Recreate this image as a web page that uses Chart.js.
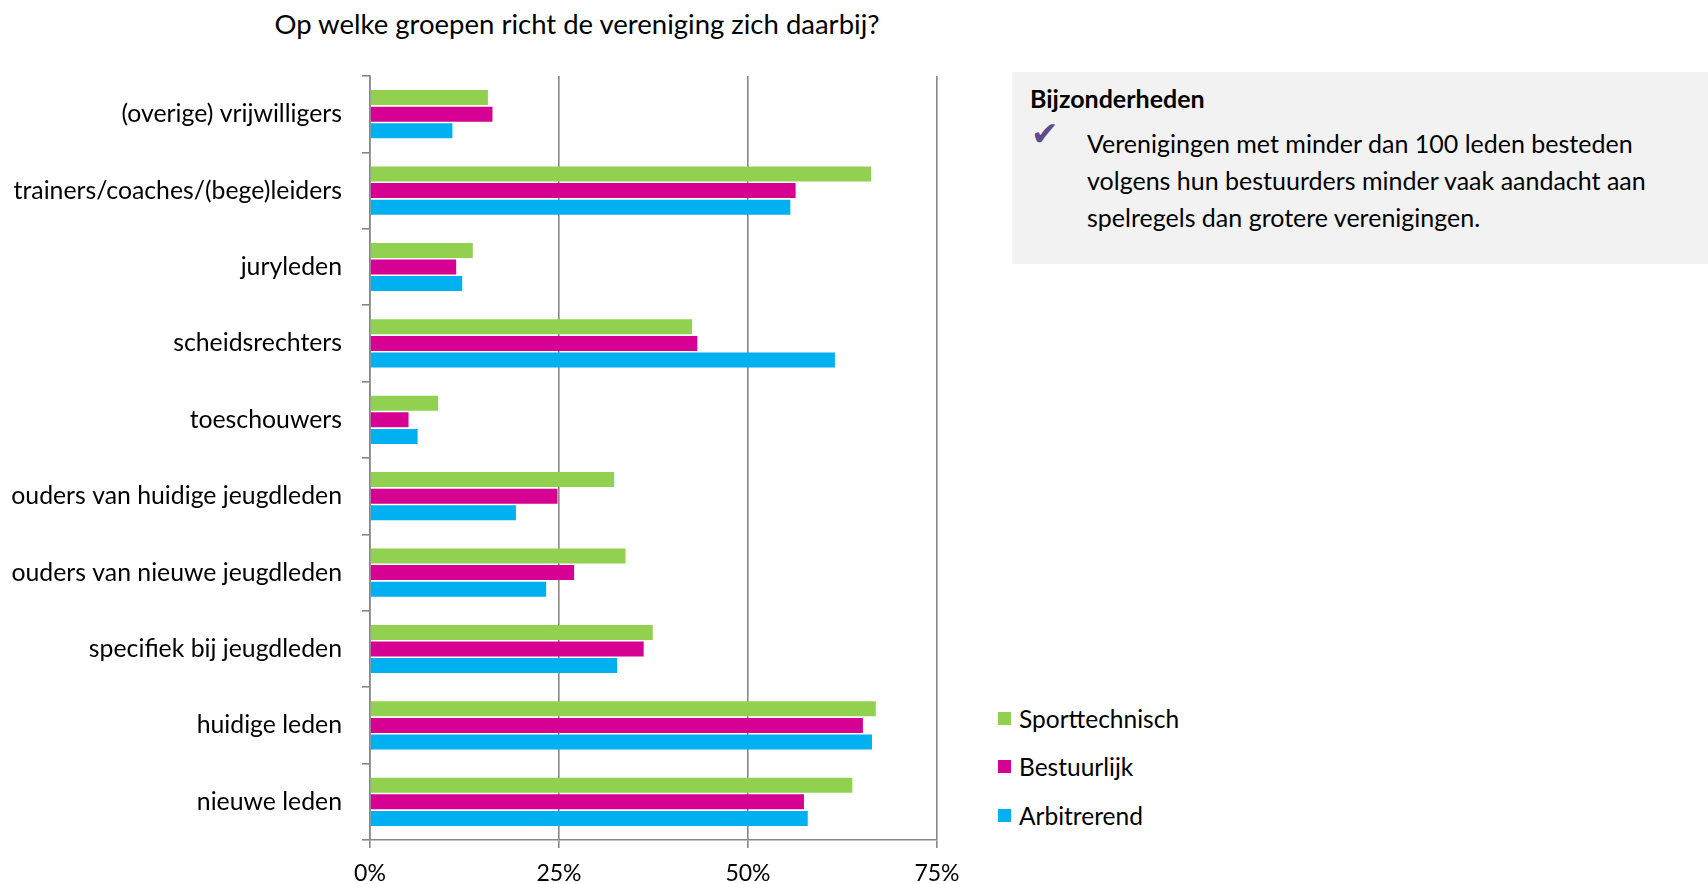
<!DOCTYPE html>
<html>
<head>
<meta charset="utf-8">
<script src="https://cdn.jsdelivr.net/npm/chart.js@4.4.1/dist/chart.umd.min.js"></script>
<style>
  html, body { margin: 0; padding: 0; background: #fff; }
  body { width: 1708px; height: 884px; position: relative; overflow: hidden; font-family: 'Lato', sans-serif; color: #000; }
  #wrap { position: absolute; left: 0; top: 0; width: 980px; height: 884px; }
  #title { position: absolute; left: 577px; top: 8px; transform: translateX(-50%); font-size: 27.5px; white-space: nowrap; line-height: 32px; }
  #box { position: absolute; left: 1012px; top: 72px; width: 696px; height: 192px; background: #f2f2f2; }
  #box .hd { position: absolute; left: 18px; top: 11px; font-weight: bold; font-size: 25px; line-height: 30px; white-space: nowrap; }
  #box .chk { position: absolute; left: 19px; top: 44px; font-family: 'DejaVu Sans'; font-size: 33px; color: #5f4b8b; line-height: 36px; }
  #box .txt { position: absolute; left: 75px; top: 53px; font-size: 25px; line-height: 37px; white-space: nowrap; }
  #legend { position: absolute; left: 998px; top: 0; }
  .li { position: absolute; left: 0; white-space: nowrap; font-size: 24.5px; line-height: 30px; height: 30px; }
  .li .sw { position: absolute; left: 0; top: 8px; width: 13px; height: 13px; }
  .li .lt { position: absolute; left: 21px; top: 0; }
</style>
</head>
<body>
<div id="title">Op welke groepen richt de vereniging zich daarbij?</div>
<div id="wrap"><canvas id="c" width="980" height="884"></canvas></div>
<div id="box">
  <div class="hd">Bijzonderheden</div>
  <div class="chk">✔</div>
  <div class="txt">Verenigingen met minder dan 100 leden besteden<br>volgens hun bestuurders minder vaak aandacht aan<br>spelregels dan grotere verenigingen.</div>
</div>
<div id="legend"></div>
<script>
const categories = [
  '(overige) vrijwilligers',
  'trainers/coaches/(bege)leiders',
  'juryleden',
  'scheidsrechters',
  'toeschouwers',
  'ouders van huidige jeugdleden',
  'ouders van nieuwe jeugdleden',
  'specifiek bij jeugdleden',
  'huidige leden',
  'nieuwe leden'
];
const seriesNames = ['Sporttechnisch', 'Bestuurlijk', 'Arbitrerend'];
const sporttechnisch = [15.6, 66.3, 13.6, 42.6, 9.0, 32.3, 33.8, 37.4, 66.9, 63.8];
const bestuurlijk    = [16.2, 56.3, 11.4, 43.3, 5.1, 24.8, 27.0, 36.2, 65.2, 57.4];
const arbitrerend    = [10.9, 55.6, 12.2, 61.5, 6.3, 19.3, 23.3, 32.7, 66.4, 57.9];
const xTicks = [0, 25, 50, 75];
const colors = ['#92d050', '#d60093', '#00b0f0'];

const seriesValues = [sporttechnisch, bestuurlijk, arbitrerend];
const datasets = seriesNames.map((n, i) => ({
  label: n,
  data: seriesValues[i],
  backgroundColor: colors[i],
  borderWidth: 0,
  categoryPercentage: 0.652,
  barPercentage: 0.905
}));

const gridColor = '#878787';
const chart = new Chart(document.getElementById('c'), {
  type: 'bar',
  data: { labels: categories, datasets },
  options: {
    indexAxis: 'y',
    responsive: false,
    animation: false,
    layout: { padding: { top: 76, right: 43, left: 0, bottom: 0 } },
    plugins: { legend: { display: false }, title: { display: false }, tooltip: { enabled: false } },
    scales: {
      x: {
        min: 0, max: 75,
        afterBuildTicks: (s) => { s.ticks = xTicks.map(v => ({ value: v })); },
        afterFit: (s) => { s.height = 44; },
        ticks: {
          callback: (v) => v + '%',
          color: '#000',
          font: { family: 'Lato', size: 23 },
          padding: 12,
          maxRotation: 0
        },
        grid: { color: gridColor, lineWidth: 1.6, tickLength: 8, drawTicks: true },
        border: { display: true, color: gridColor, width: 1.6 }
      },
      y: {
        afterFit: (s) => { s.width = 370; },
        ticks: {
          color: '#000',
          font: { family: 'Lato', size: 24.8 },
          padding: 20
        },
        grid: { drawOnChartArea: false, drawTicks: true, tickLength: 8, color: gridColor, lineWidth: 1.6, offset: true },
        border: { display: true, color: gridColor, width: 1.6 }
      }
    }
  }
});

// HTML legend built from the chart's datasets
const legendTops = [704, 752, 801];
const lg = document.getElementById('legend');
chart.data.datasets.forEach((ds, i) => {
  const d = document.createElement('div');
  d.className = 'li';
  d.style.top = legendTops[i] + 'px';
  d.innerHTML = '<span class="sw" style="background:' + ds.backgroundColor + '"></span><span class="lt">' + ds.label + '</span>';
  lg.appendChild(d);
});
</script>
</body>
</html>
